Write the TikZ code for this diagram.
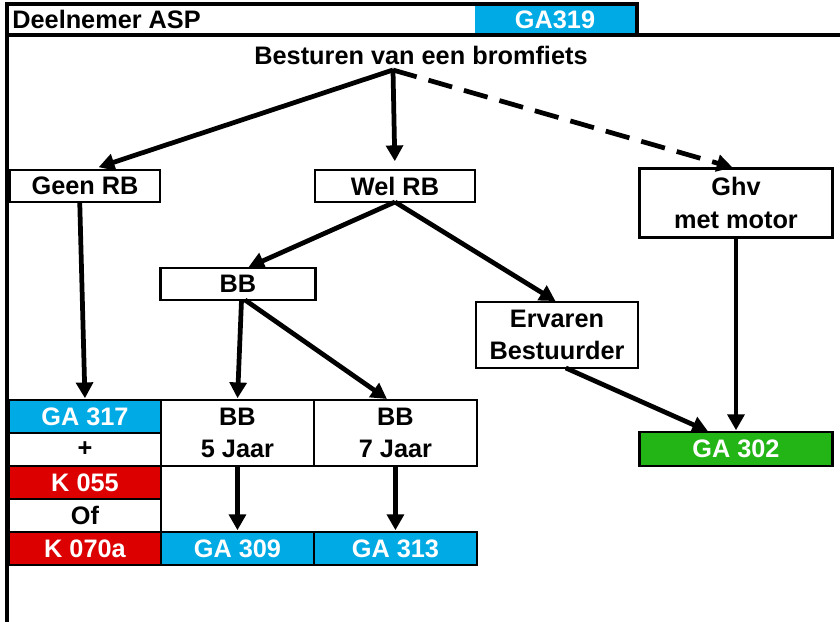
\documentclass[tikz,border=0pt]{standalone}
\usepackage{fontspec}
\setmainfont{Liberation Sans}
\usetikzlibrary{positioning,arrows.meta}

\definecolor{gablauw}{RGB}{0,170,228}
\definecolor{krood}{RGB}{220,0,0}
\definecolor{gagroen}{RGB}{34,181,21}

\tikzset{
  tekst/.style={font=\bfseries\fontsize{14.4}{18.5}\selectfont, inner sep=0pt},
  vak/.style={tekst, draw, line width=1.6pt, fill=white, outer sep=0pt, align=center},
  blauw/.style={vak, fill=gablauw, text=white},
  rood/.style={vak, fill=krood, text=white},
  groen/.style={vak, fill=gagroen, text=white},
  pijl/.style={line width=2.7pt, -{Triangle[length=9pt,width=9.5pt]}, shorten >=1pt},
}

\begin{document}
\begin{tikzpicture}[x=0.02cm, y=-0.02cm]
    \useasboundingbox (0,0) rectangle (840,622);
    % kader
    \draw[line width=2.4pt] (7,622) -- (7,4) -- (637,4) -- (637,35);
    \draw[line width=2.4pt] (5,35) -- (840,35);
    \node[tekst, anchor=west] (deelnemer) at (12,19) {Deelnemer ASP};
    \node[tekst, fill=gablauw, text=white, minimum width=3.2cm, minimum height=0.54cm] (ga319) at (555,19.5) {GA319};

    % boom
    \node[tekst] (titel) at (421,55) {Besturen van een bromfiets};
    \coordinate (split) at (393,70);
    \node[vak, minimum width=3cm, minimum height=0.64cm] (geenrb) at (85,186) {Geen RB};
    \node[vak, minimum width=3.2cm, minimum height=0.64cm] (welrb) at (395,186) {Wel RB};
    \node[vak, minimum width=3.86cm, minimum height=1.38cm] (ghv) at (736,203) {Ghv\\met motor};
    \node[vak, minimum width=3.1cm, minimum height=0.64cm] (bb) at (238,284) {BB};
    \node[vak, minimum width=3.24cm, minimum height=1.32cm] (ervaren) at (557,335) {Ervaren\\Bestuurder};
    \node[groen, minimum width=3.86cm, minimum height=0.68cm] (ga302) at (736,449) {GA 302};

    % tabel
    \node[blauw, minimum width=3.04cm, minimum height=0.66cm] (ga317) at (85,416.5) {GA 317};
    \node[vak, minimum width=3.04cm, minimum height=0.66cm, below=0pt of ga317] (plus) {+};
    \node[rood, minimum width=3.04cm, minimum height=0.66cm, below=0pt of plus] (k055) {K 055};
    \node[vak, minimum width=3.04cm, minimum height=0.66cm, below=0pt of k055] (of) {Of};
    \node[rood, minimum width=3.04cm, minimum height=0.66cm, below=0pt of of] (k070) {K 070a};
    \node[vak, minimum width=3.06cm, minimum height=1.32cm, anchor=north west] (bb5) at (ga317.north east) {BB\\5 Jaar};
    \node[vak, minimum width=3.26cm, minimum height=1.32cm, right=0pt of bb5] (bb7) {BB\\7 Jaar};
    \node[blauw, minimum width=3.06cm, minimum height=0.66cm, right=0pt of k070] (ga309) {GA 309};
    \node[blauw, minimum width=3.26cm, minimum height=0.66cm, right=0pt of ga309] (ga313) {GA 313};

    % pijlen
    \draw[pijl, shorten >=5pt] (split) -- ([xshift=3pt]geenrb.north);
    \draw[pijl, shorten >=5pt] (split) -- (welrb.north);
    \draw[pijl, shorten >=2pt, dash pattern=on 14pt off 7pt] (split) -- (ghv.north);
    \draw[pijl] ([xshift=-3pt]geenrb.south) -- (ga317.north);
    \draw[pijl] (welrb.south) -- ([xshift=5pt]bb.north);
    \draw[pijl] (welrb.south) -- (ervaren.north);
    \draw[pijl] ([xshift=2pt]bb.south) -- (bb5.north);
    \draw[pijl] ([xshift=4pt]bb.south) -- ([xshift=-4pt]bb7.north);
    \draw[pijl] (bb5.south) -- (ga309.north);
    \draw[pijl] (bb7.south) -- (ga313.north);
    \draw[pijl] ([xshift=5pt]ervaren.south) -- ([xshift=-15pt]ga302.north);
    \draw[pijl] (ghv.south) -- (ga302.north);
\end{tikzpicture}
\end{document}
